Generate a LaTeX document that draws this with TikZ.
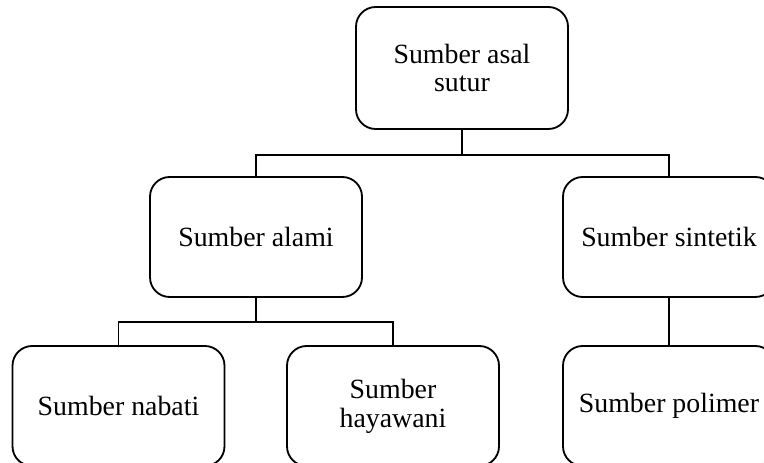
\documentclass[tikz,border=0pt]{standalone}
\usepackage{fontspec}
\setmainfont{Liberation Serif}
\usepackage{tikz}
\usetikzlibrary{positioning,calc}
\tikzset{
  % kotak dengan sudut membulat
  box/.style={
    draw=black,
    line width=1.3pt,
    rounded corners=14pt,
    minimum width=5.3cm,
    minimum height=3cm,
    align=center,
    font=\fontsize{19.8}{20.5}\selectfont
  },
  % garis penghubung
  link/.style={line width=1.3pt, black},
}

\begin{document}
\begin{tikzpicture}
    \path[use as bounding box, clip] (0,0) rectangle (19.1,11.575);

    % Akar
    \node[box, minimum height=3.05cm] (asal) at (11.55, 9.875) {Sumber asal\\sutur};

    % Tingkat kedua
    \node[box] (alami) at (6.4, 5.65) {Sumber alami};
    \node[box] (sintetik) at (16.725, 5.65) {Sumber sintetik};

    % Tingkat ketiga
    \node[box] (nabati) at (2.9625, 1.425) {Sumber nabati};
    \node[box] (hayawani) at (9.825, 1.425) {Sumber\\hayawani};
    \node[box] (polimer) at (16.725, 1.425) {Sumber polimer};

    % Penghubung
    \coordinate (j1) at ($(asal.south)+(0,-0.625)$);
    \coordinate (j2) at ($(alami.south)+(0,-0.6)$);
    \draw[link] (asal.south) -- (j1);
    \draw[link] (alami.north) -- (alami.north |- j1) -- (sintetik.north |- j1) -- (sintetik.north);
    \draw[link] (alami.south) -- (j2);
    \draw[link] (nabati.north) -- (nabati.north |- j2) -- (hayawani.north |- j2) -- (hayawani.north);
    \draw[link] (sintetik.south) -- (polimer.north);
\end{tikzpicture}
\end{document}
